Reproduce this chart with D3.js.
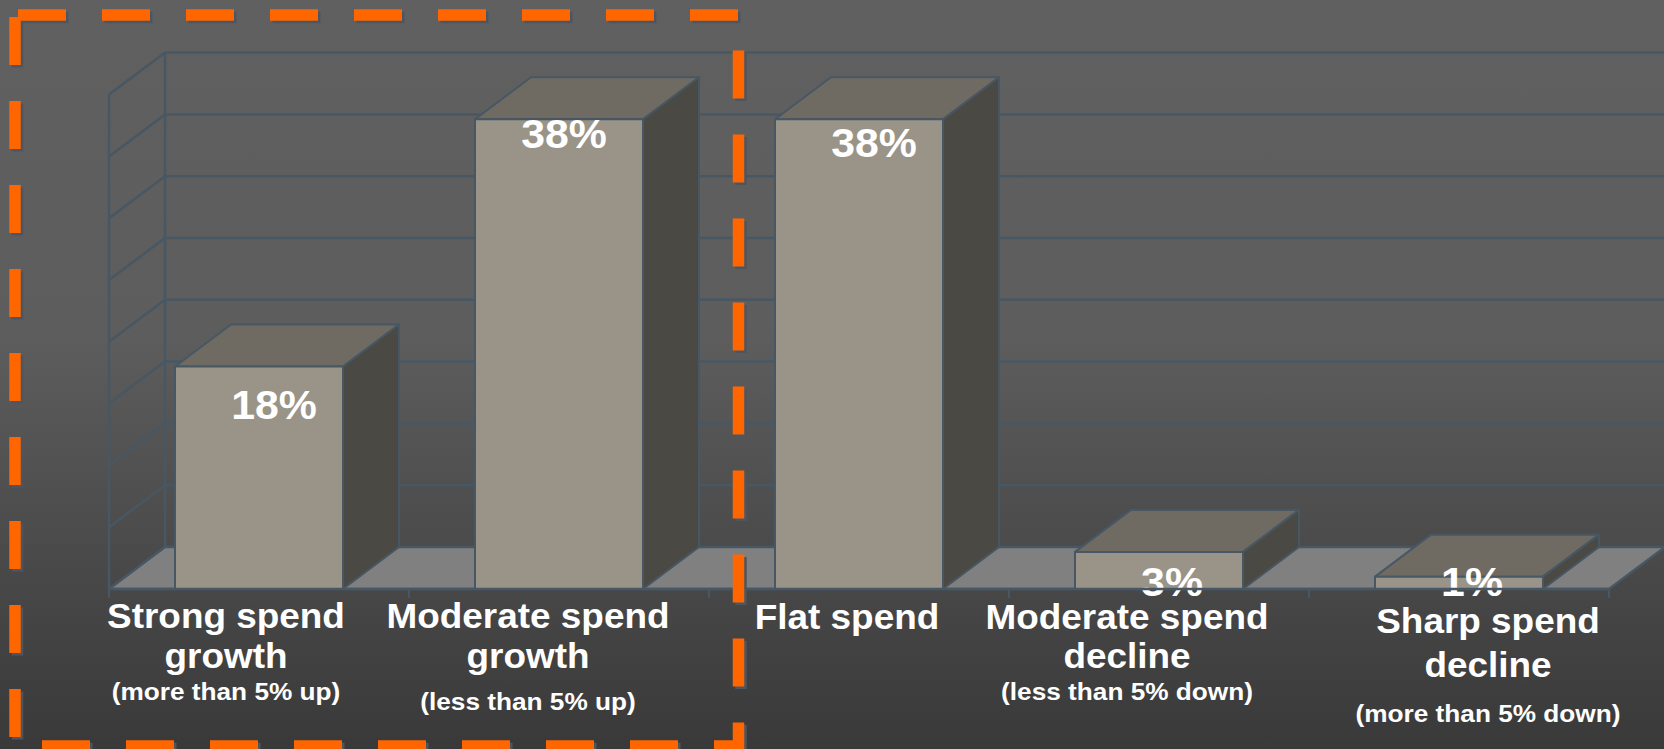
<!DOCTYPE html>
<html>
<head>
<meta charset="utf-8">
<title>Spend outlook</title>
<script src="https://cdn.jsdelivr.net/npm/d3@7"></script>
<style>
  html, body { margin: 0; padding: 0; background: #3a3a3a; overflow: hidden; }
  svg { display: block; }
  text { font-family: "Liberation Sans", Arial, sans-serif; font-weight: bold; fill: #ffffff; }
</style>
</head>
<body>
<div id="chart"></div>
<script>

// chart data
var categories = ["Strong spend growth", "Moderate spend growth", "Flat spend", "Moderate spend decline", "Sharp spend decline"];
var labelLines = [["Strong spend", "growth"], ["Moderate spend", "growth"], ["Flat spend"], ["Moderate spend", "decline"], ["Sharp spend", "decline"]];
var subLabels = ["(more than 5% up)", "(less than 5% up)", "", "(less than 5% down)", "(more than 5% down)"];
var values = [18, 38, 38, 3, 1];
var yTicks = [0, 5, 10, 15, 20, 25, 30, 35, 40];

// layout
var W = 1664, H = 749;
var floorY = 589, left = 109, right = 1609;
var dx = 56, dy = -42;          // depth of the 3d box
var lineCol = "#475764";
var stretch = "scale(1.07,1)";  // text in the source is a bit wide

// the labels were placed by hand in the source, so nudge them a little
var valueNudge = [[3, 12], [-7, -11], [3, -2], [1, 4], [1, 0]];
var labelLayout = [
  {dx: -33, dy: 0, gap: 40, sub: 72},
  {dx: -31, dy: 0, gap: 40, sub: 82},
  {dx: -12, dy: 1, gap: 40, sub: 0},
  {dx: -32, dy: 1, gap: 39, sub: 71},
  {dx: 29,  dy: 5, gap: 44, sub: 89}
];

var svg = d3.select("#chart")
  .append("svg")
    .attr("width", W)
    .attr("height", H);

var defs = svg.append("defs");
var grad = defs.append("linearGradient")
    .attr("id", "bg")
    .attr("x1", 0).attr("y1", 0).attr("x2", 0).attr("y2", 1);
grad.append("stop").attr("offset", "0%").attr("stop-color", "#606060");
grad.append("stop").attr("offset", "45%").attr("stop-color", "#5d5d5d");
grad.append("stop").attr("offset", "100%").attr("stop-color", "#393939");

defs.append("clipPath").attr("id", "plotClip")
  .append("rect").attr("x", 0).attr("y", 0).attr("width", W).attr("height", 597);

svg.append("rect")
    .attr("width", W)
    .attr("height", H)
    .attr("fill", "url(#bg)");

// scales
var x = d3.scaleBand()
    .domain(categories)
    .range([left, right])
    .paddingInner(0.44)
    .paddingOuter(0.22);

var y = d3.scaleLinear()
    .domain([0, 40])
    .range([floorY, floorY - 494.4]);

var bw = x.bandwidth();

function pts(arr) {
  return arr.map(function(p) { return p[0] + "," + p[1]; }).join(" ");
}

// walls: gridlines on back wall and left wall
var walls = svg.append("g")
    .attr("stroke", lineCol)
    .attr("stroke-width", 2.5)
    .attr("fill", "none");

walls.selectAll(".back")
  .data(yTicks)
  .enter().append("line")
    .attr("x1", left + dx)
    .attr("x2", W + 10)
    .attr("y1", function(d) { return y(d) + dy; })
    .attr("y2", function(d) { return y(d) + dy; });

walls.selectAll(".side")
  .data(yTicks)
  .enter().append("line")
    .attr("x1", left)
    .attr("x2", left + dx)
    .attr("y1", function(d) { return y(d); })
    .attr("y2", function(d) { return y(d) + dy; });

walls.append("line")
    .attr("x1", left).attr("x2", left)
    .attr("y1", y(40)).attr("y2", y(0));
walls.append("line")
    .attr("x1", left + dx).attr("x2", left + dx)
    .attr("y1", y(40) + dy).attr("y2", y(0) + dy);

// floor
svg.append("polygon")
    .attr("points", pts([[left, floorY], [right, floorY], [right + dx, floorY + dy], [left + dx, floorY + dy]]))
    .attr("fill", "#808080")
    .attr("stroke", lineCol)
    .attr("stroke-width", 2.5)
    .attr("stroke-linejoin", "round");

// category ticks
svg.append("g").selectAll("line")
  .data(d3.range(categories.length + 1))
  .enter().append("line")
    .attr("x1", function(i) { return left + i * x.step(); })
    .attr("x2", function(i) { return left + i * x.step(); })
    .attr("y1", floorY)
    .attr("y2", floorY + 9)
    .attr("stroke", lineCol)
    .attr("stroke-width", 2);

// bars
var bars = svg.append("g")
  .selectAll("g")
  .data(values)
  .enter().append("g")
    .attr("stroke", lineCol)
    .attr("stroke-width", 2)
    .attr("stroke-linejoin", "round");

bars.append("polygon")
    .attr("fill", "#6f6b63")
    .attr("points", function(d, i) {
      var x0 = x(categories[i]), x1 = x0 + bw, yt = y(d);
      return pts([[x0, yt], [x1, yt], [x1 + dx, yt + dy], [x0 + dx, yt + dy]]);
    });

bars.append("polygon")
    .attr("fill", "#4b4943")
    .attr("points", function(d, i) {
      var x1 = x(categories[i]) + bw, yt = y(d);
      return pts([[x1, yt], [x1 + dx, yt + dy], [x1 + dx, floorY + dy], [x1, floorY]]);
    });

bars.append("rect")
    .attr("fill", "#9a9488")
    .attr("x", function(d, i) { return x(categories[i]); })
    .attr("y", function(d) { return y(d); })
    .attr("width", bw)
    .attr("height", function(d) { return floorY - y(d); });

// value labels
svg.append("g")
    .attr("clip-path", "url(#plotClip)")
  .selectAll("text")
  .data(values)
  .enter().append("text")
    .attr("transform", function(d, i) {
      var cx = x(categories[i]) + bw / 2 + 12 + valueNudge[i][0];
      var by = Math.min(y(d) + 40, 596) + valueNudge[i][1];
      return "translate(" + cx + "," + by + ") " + stretch;
    })
    .attr("text-anchor", "middle")
    .attr("font-size", 40)
    .text(function(d) { return d + "%"; });

// front edge of the floor sits over the labels
svg.append("line")
    .attr("x1", left).attr("x2", right)
    .attr("y1", floorY).attr("y2", floorY)
    .attr("stroke", lineCol)
    .attr("stroke-width", 2.5);

// category labels
var cat = svg.append("g")
  .selectAll("g")
  .data(categories)
  .enter().append("g")
    .attr("transform", function(d, i) {
      var L = labelLayout[i];
      return "translate(" + (x(d) + bw / 2 + L.dx) + "," + (628 + L.dy) + ")";
    });

cat.each(function(d, i) {
  var g = d3.select(this), L = labelLayout[i];
  labelLines[i].forEach(function(t, k) {
    g.append("text")
        .attr("transform", "translate(0," + (k * L.gap) + ") " + stretch)
        .attr("text-anchor", "middle")
        .attr("font-size", 34.5)
        .text(t);
  });
  if (subLabels[i]) {
    g.append("text")
        .attr("transform", "translate(0," + L.sub + ") " + stretch)
        .attr("text-anchor", "middle")
        .attr("font-size", 24.5)
        .text(subLabels[i]);
  }
});

// orange dashed highlight box round the growth columns
var boxPath = "M15,15 H738.5 V746 H15 Z";
svg.append("path")
    .attr("d", boxPath)
    .attr("transform", "translate(2.5,2.5)")
    .attr("fill", "none")
    .attr("stroke", "#4b5662")
    .attr("stroke-width", 11.5)
    .attr("stroke-dasharray", "48 36")
    .attr("stroke-dashoffset", 81);
svg.append("path")
    .attr("d", boxPath)
    .attr("fill", "none")
    .attr("stroke", "#ff6600")
    .attr("stroke-width", 11.5)
    .attr("stroke-dasharray", "48 36")
    .attr("stroke-dashoffset", 81);

</script>
</body>
</html>
